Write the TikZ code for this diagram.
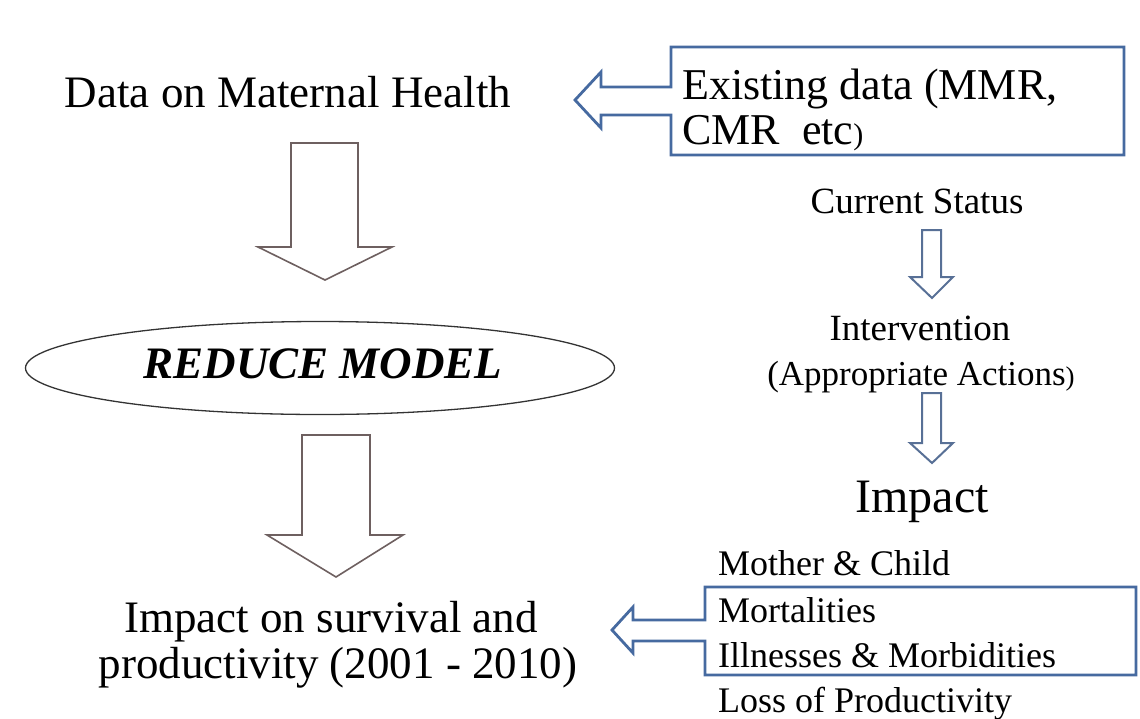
\documentclass[tikz,border=0pt]{standalone}
\usepackage{fontspec}
\setmainfont{Liberation Serif}
\usetikzlibrary{positioning,shapes.geometric}
\definecolor{callblue}{RGB}{70,106,160}
\definecolor{smallblue}{RGB}{88,112,150}
\definecolor{arrowgray}{RGB}{110,96,96}
\newcommand{\fsz}[1]{\fontsize{#1}{#1}\selectfont}

\begin{document}
\begin{tikzpicture}[x=1pt,y=-1pt,
  txt/.style={inner sep=0pt,anchor=base},
  lefttxt/.style={inner sep=0pt,anchor=base west,font=\fsz{36}},
  big/.style={font=\fsz{45}},
  mid/.style={font=\fsz{37}},
  blockarrow/.style={draw=arrowgray,line width=1.6pt,fill=white,line join=miter},
  callout/.style={draw=callblue,line width=2.8pt,fill=white,line join=miter},
  thinarrow/.style={draw=smallblue,line width=2pt,fill=white,line join=miter}]
\useasboundingbox (0,0) rectangle (1140,718);
% left column
\node[txt,big] (data) at (288,107) {Data on Maternal Health};
\draw[blockarrow] (291,143) -- (358,143) -- (358,247) -- (392,247) -- (325,280) -- (258,247) -- (291,247) -- cycle;
\node[draw=black!80,line width=1.3pt,ellipse,minimum width=589pt,minimum height=93pt,inner sep=0pt] (oval) at (320,368) {};
\node[txt,font=\fsz{45}\bfseries\itshape] (model) at (323,378) {REDUCE MODEL};
\draw[blockarrow] (302,435) -- (370,435) -- (370,535) -- (403,535) -- (336,577) -- (267,535) -- (302,535) -- cycle;
\node[txt,big] (survive1) at (331,632) {Impact on survival and};
\node[txt,big] (survive2) at (338,678) {productivity (2001 - 2010)};
% top callout
\draw[callout] (671,47) -- (1124,47) -- (1124,155) -- (671,155) -- (671,115) -- (601,115)
  -- (601,128) -- (575,100) -- (601,72) -- (601,87) -- (671,87) -- cycle;
\node[lefttxt,font=\fsz{44}] (exist1) at (682,99) {Existing data (MMR,};
\node[lefttxt,font=\fsz{44}] (exist2) at (682,144) {CMR\ \ etc{\fsz{30})}};
% right column
\node[txt,mid] (status) at (917,213) {Current Status};
\node[txt,mid] (interv) at (920,340) {Intervention};
\node[txt,font=\fsz{35}] (actions) at (921,385) {(Appropriate Actions{\fsz{27})}};
\foreach \t/\h/\b in {230/277/298,393/443/463}{
  \draw[thinarrow] (922,\t) -- (941,\t) -- (941,\h) -- (953,\h) -- (932,\b) -- (910,\h) -- (922,\h) -- cycle;
}
\node[txt,font=\fsz{48}] (impact) at (922,512) {Impact};
% bottom callout
\draw[callout] (705,587) -- (1136,587) -- (1136,675) -- (705,675) -- (705,641) -- (633,641)
  -- (633,653) -- (612,630) -- (633,607) -- (633,620) -- (705,620) -- cycle;
\node[lefttxt] (mother) at (718,575) {Mother \& Child};
\node[lefttxt] (mort) at (718,622) {Mortalities};
\node[lefttxt] (ill) at (718,667) {Illnesses \& Morbidities};
\node[lefttxt] (loss) at (718,712) {Loss of Productivity};
\end{tikzpicture}
\end{document}
